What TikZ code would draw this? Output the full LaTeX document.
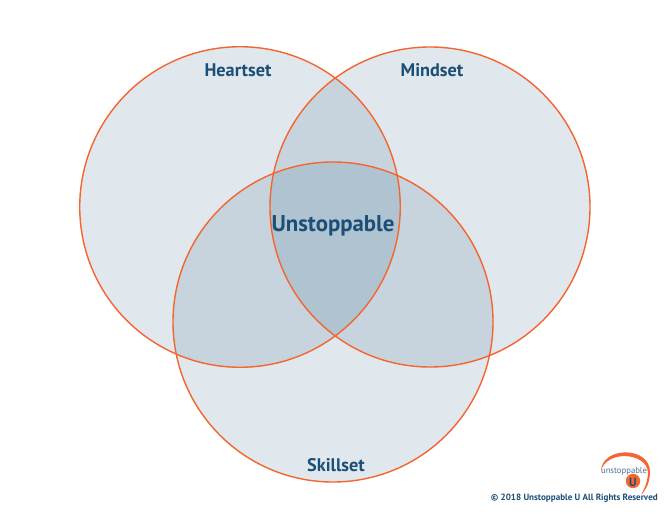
\documentclass[tikz,border=0pt]{standalone}
\usepackage{fontspec}
\setmainfont{PT Sans}
\definecolor{vennfill}{HTML}{1A527A}
\definecolor{vennline}{HTML}{F4652F}
\definecolor{labelblue}{HTML}{1B4F78}
\usetikzlibrary{positioning}
\tikzset{
	venn/.style={fill=vennfill, fill opacity=.13, draw=none},
	rim/.style={draw=vennline, line width=1.05pt},
	setlabel/.style={labelblue, font=\fontsize{13.7}{16}\selectfont\bfseries, inner sep=0pt},
}
\begin{document}
\begin{tikzpicture}[x=.75pt,y=-.75pt]
	\useasboundingbox (0,0) rectangle (669,517);
	\fill[white] (0,0) rectangle (669,517);
	
	%circles
	\fill[venn] (240,207) circle (120.2pt);
	\fill[venn] (430,207) circle (120pt);
	\fill[venn] (333,322) circle (120pt);
	\draw[rim] (240,207) circle (120.2pt);
	\draw[rim] (430,207) circle (120pt);
	\draw[rim] (333,322) circle (120pt);
	
	%labels
	\node[setlabel] (heartset) at (238,70) {Heartset};
	\node[setlabel] (mindset) at (432,70) {Mindset};
	\node[setlabel] (skillset) at (336,465) {Skillset};
	\node[labelblue, font=\fontsize{17.1}{20}\selectfont\bfseries, inner sep=0pt] (unstoppable) at (333,225.5) {Unstoppable};
	
	%logo
	\fill[vennline] (601,471) .. controls (602,446) and (650,446) .. (650,472) .. controls (650,482) and (646,490) .. (641,495) .. controls (645,488) and (648,480) .. (648,472) .. controls (646,452) and (606,450) .. cycle;
	\fill[vennline] (633,481) circle (5.4pt);
	\node[labelblue, font=\fontsize{9}{11}\selectfont\bfseries, inner sep=0pt] (logou) at (633,482) {U};
	\node[labelblue!80, font=\fontsize{6.5}{8}\selectfont, inner sep=0pt] (logotext) at (624,471) {unstoppable};
	
	%copyright
	\node[labelblue, font=\fontsize{6.8}{8}\selectfont\bfseries, anchor=east, inner sep=0pt] (copy) at (658,498) {© 2018 Unstoppable U All Rights Reserved};
\end{tikzpicture}
\end{document}
